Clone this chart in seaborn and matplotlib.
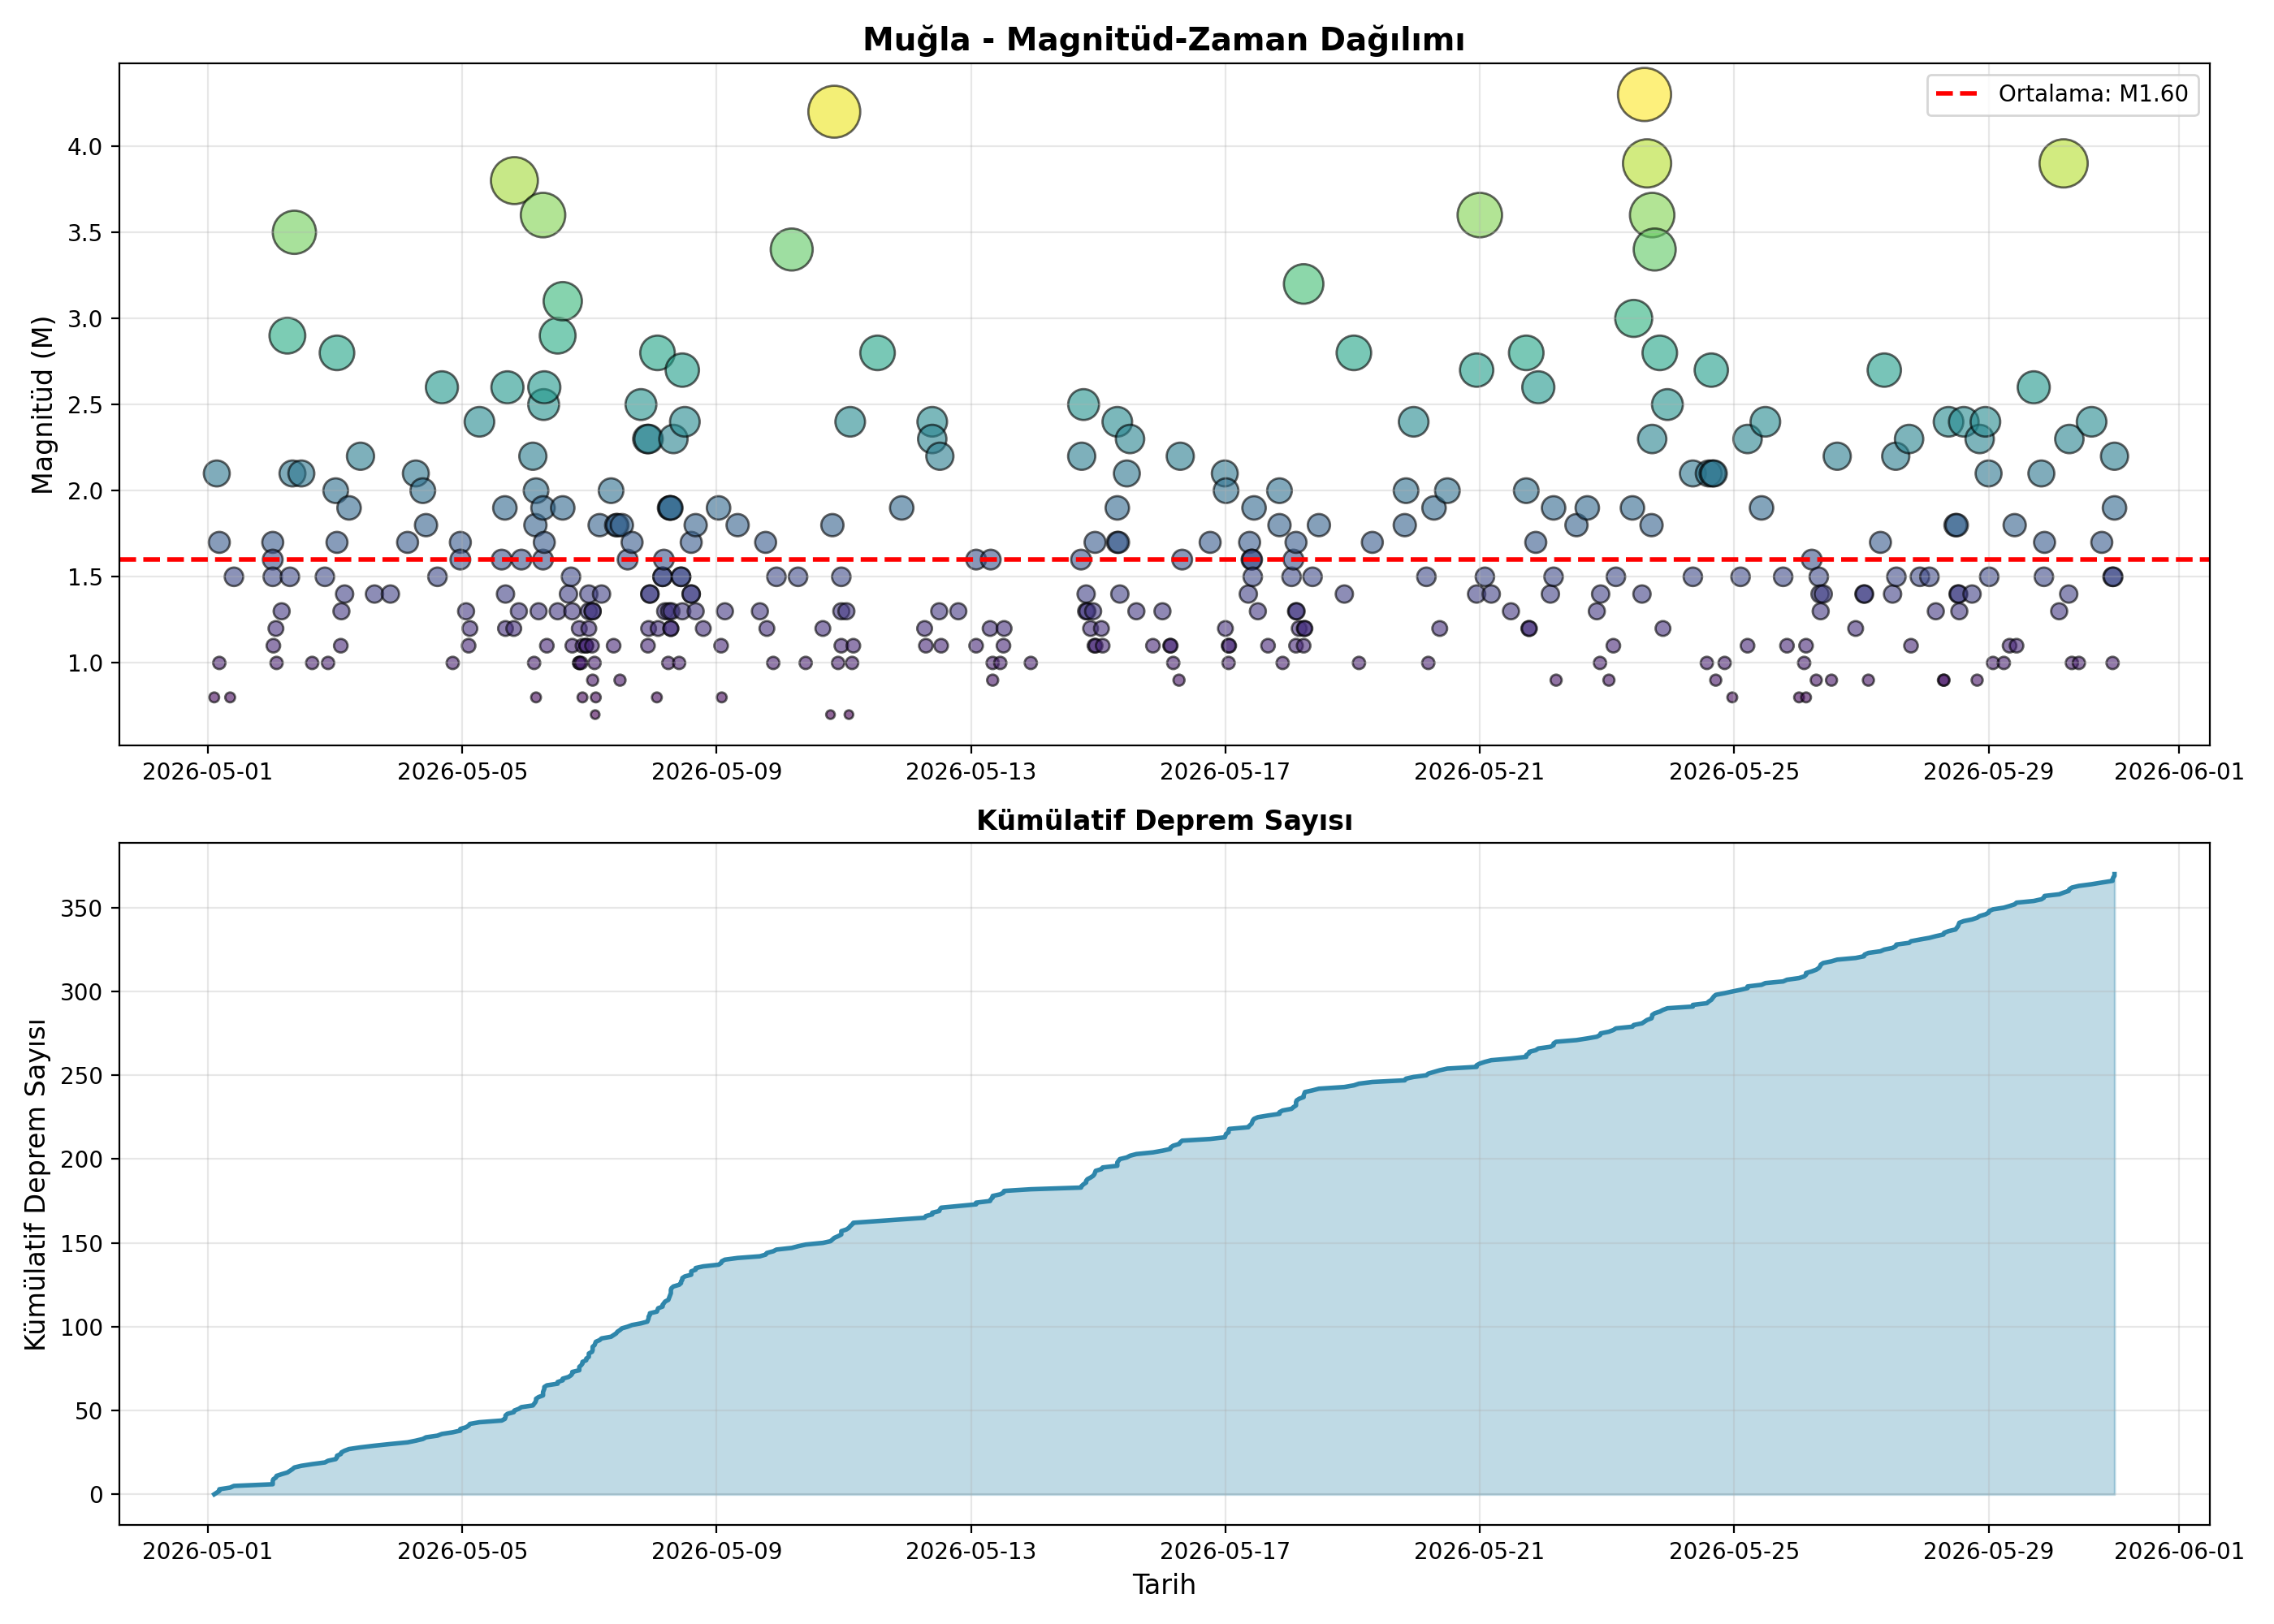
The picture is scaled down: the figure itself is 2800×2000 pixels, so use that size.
import numpy as np
import pandas as pd
import matplotlib
matplotlib.use('Agg')
import matplotlib.pyplot as plt
import matplotlib.dates as mdates
import seaborn as sns

# Veriler: gun = 2026-05-01 00:00'dan itibaren gecen gun, mag = magnitud
gun_1 = [0.14, 0.18, 0.18, 0.10, 0.35, 0.41, 1.02, 1.02, 1.02, 1.16, 1.07, 1.03, 1.08,
         1.25, 1.36, 1.33, 1.47, 1.29, 1.64, 1.84, 1.89, 2.03, 2.01, 2.22, 2.03, 2.15, 2.10, 2.09,
         2.40, 2.62, 2.87, 3.14, 3.27, 3.38, 3.43, 3.68, 3.61, 3.85,
         3.97, 3.97, 4.06, 4.12, 4.10, 4.27, 4.67, 4.71, 4.82, 4.62, 4.68, 4.68, 4.81]
mag_1 = [2.1, 1.7, 1.0, 0.8, 0.8, 1.5, 1.7, 1.6, 1.5, 1.3, 1.2, 1.1, 1.0,
         2.9, 3.5, 2.1, 2.1, 1.5, 1.0, 1.5, 1.0, 2.8, 2.0, 1.9, 1.7, 1.4, 1.3, 1.1,
         2.2, 1.4, 1.4, 1.7, 2.1, 2.0, 1.8, 2.6, 1.5, 1.0,
         1.7, 1.6, 1.3, 1.2, 1.1, 2.4, 1.9, 2.6, 3.8, 1.6, 1.4, 1.2, 1.2]

gun_2 = [5.27, 5.58, 5.50, 5.29, 5.28, 5.11, 5.16, 5.27, 5.58, 5.15,
         5.29, 4.93, 5.27, 5.71, 5.67, 5.99, 6.19, 4.89, 5.20, 5.50,
         5.73, 5.99, 6.05, 5.84, 5.99, 5.33, 5.73, 5.89, 5.95, 6.04,
         6.38, 5.13, 5.84, 5.87, 6.08, 6.05, 6.48, 5.16, 5.89, 6.10, 6.09,
         6.34, 6.16, 6.44, 6.51, 6.67, 6.60,
         6.81, 7.07, 7.46, 6.91, 6.93, 7.32, 7.50,
         7.26, 7.28, 7.67, 7.60, 7.17, 7.15, 7.44, 6.95, 7.60, 7.19,
         7.29, 7.46, 7.67, 6.93, 7.08, 7.28, 7.79, 6.92, 7.24, 7.41, 7.06,
         5.95, 5.84, 7.28, 7.25, 6.95, 7.60, 7.44, 7.15, 6.05, 7.27, 6.42]
mag_2 = [3.6, 3.1, 2.9, 2.6, 2.5, 2.2, 2.0, 1.9, 1.9, 1.8,
         1.7, 1.6, 1.6, 1.5, 1.4, 1.4, 1.4, 1.3, 1.3, 1.3,
         1.3, 1.3, 1.3, 1.2, 1.2, 1.1, 1.1, 1.1, 1.1, 1.1,
         1.1, 1.0, 1.0, 1.0, 1.0, 0.9, 0.9, 0.8, 0.8, 0.8, 0.7,
         2.0, 1.8, 1.8, 1.8, 1.7, 1.6,
         2.5, 2.8, 2.7, 2.3, 2.3, 2.3, 2.4,
         1.9, 1.9, 1.8, 1.7, 1.6, 1.5, 1.5, 1.4, 1.4, 1.3,
         1.3, 1.3, 1.3, 1.2, 1.2, 1.2, 1.2, 1.1, 1.0, 1.0, 0.8,
         1.1, 1.0, 1.2, 1.3, 1.4, 1.4, 1.5, 1.5, 1.3, 1.9, 1.8]

gun_3 = [8.03, 8.33, 8.77, 8.94, 9.28, 8.13, 8.68, 8.79, 8.07, 8.89, 9.40, 8.08, 9.18, 9.82, 9.79, 9.85, 9.67,
         10.10, 10.53, 9.96, 9.96, 10.04, 9.96, 10.15, 9.91, 10.13, 10.08,
         10.91, 11.39, 11.39, 11.51, 11.50, 11.80, 11.27, 11.29, 11.53,
         12.08, 12.31, 12.30, 12.52, 12.08, 12.51, 12.34, 12.46, 12.34, 12.94,
         13.77, 14.30, 14.50, 13.74, 14.45, 14.30, 13.95, 14.30, 14.32, 13.73, 13.81,
         14.34, 13.81, 13.83, 13.92, 14.60, 13.88, 14.05, 13.94, 13.96, 14.07, 14.86]
mag_3 = [1.9, 1.8, 1.7, 1.5, 1.5, 1.3, 1.3, 1.2, 1.1, 1.0, 1.0, 0.8, 3.4, 1.8, 0.7, 4.2, 1.2,
         2.4, 2.8, 1.5, 1.3, 1.3, 1.1, 1.1, 1.0, 1.0, 0.7,
         1.9, 2.4, 2.3, 2.2, 1.3, 1.3, 1.2, 1.1, 1.1,
         1.6, 1.6, 1.2, 1.2, 1.1, 1.1, 1.0, 1.0, 0.9, 1.0,
         2.5, 2.4, 2.3, 2.2, 2.1, 1.9, 1.7, 1.7, 1.7, 1.6, 1.4,
         1.4, 1.3, 1.3, 1.3, 1.3, 1.2, 1.2, 1.1, 1.1, 1.1, 1.1]

gun_4 = [15.01, 15.29, 15.32, 15.13, 15.14, 15.18, 15.27, 15.76, 15.99, 16.01,
         16.00, 16.05, 16.06, 16.05, 16.45, 16.38, 16.41, 16.42, 16.43, 16.36,
         16.51, 16.67, 16.85, 16.85, 17.11, 17.07, 17.04, 17.11, 17.12, 17.16,
         17.24, 17.25, 17.11, 17.23, 16.90, 17.23, 17.47, 17.37, 17.87, 18.02,
         18.31, 18.10, 18.96, 18.84, 18.82, 19.28, 19.49, 19.16, 19.37, 19.19]
mag_4 = [1.3, 2.2, 1.6, 1.1, 1.1, 1.0, 0.9, 1.7, 2.1, 2.0,
         1.2, 1.1, 1.1, 1.0, 1.9, 1.7, 1.6, 1.6, 1.5, 1.4,
         1.3, 1.1, 2.0, 1.8, 1.7, 1.6, 1.5, 1.3, 1.3, 1.2,
         1.2, 1.2, 1.1, 1.1, 1.0, 3.2, 1.8, 1.5, 1.4, 2.8,
         1.7, 1.0, 2.4, 2.0, 1.8, 1.9, 2.0, 1.5, 1.2, 1.0]

gun_5 = [20.00, 19.95, 20.08, 19.95, 20.18, 20.49, 20.73, 20.92, 20.73, 20.88,
         20.77, 20.78, 21.16, 21.16, 21.11, 21.20, 21.52, 21.69, 21.90, 21.84,
         22.10, 21.89, 22.03, 22.14, 22.40, 22.42, 22.59, 22.63, 22.71, 22.75,
         22.83, 22.95, 22.71, 22.70, 22.55, 22.88, 23.35, 23.60, 23.66, 23.68,
         23.64, 23.35, 23.57, 23.71, 23.85, 23.97, 24.21, 24.49, 24.43, 24.10,
         24.21, 24.77, 24.83]
mag_5 = [3.6, 2.7, 1.5, 1.4, 1.4, 1.3, 2.8, 2.6, 2.0, 1.7,
         1.2, 1.2, 1.9, 1.5, 1.4, 0.9, 1.8, 1.9, 1.4, 1.3,
         1.1, 1.0, 0.9, 1.5, 1.9, 3.0, 4.3, 3.9, 3.6, 3.4,
         2.8, 2.5, 2.3, 1.8, 1.4, 1.2, 2.1, 2.1, 2.1, 2.1,
         2.7, 1.5, 1.0, 0.9, 1.0, 0.8, 2.3, 2.4, 1.9, 1.5,
         1.1, 1.5, 1.1]

gun_6 = [25.02, 25.13, 25.10, 25.13, 25.22, 25.33, 25.35, 25.40, 25.36, 25.29,
         25.53, 25.62, 25.91, 26.04, 26.05, 26.11, 26.36, 26.30, 26.54, 26.75,
         26.55, 26.49, 26.78, 26.92, 27.07, 27.17, 27.29, 27.30, 27.37, 27.61,
         27.95, 27.86, 28.00, 27.48, 27.50, 27.52, 27.53, 27.74, 27.54, 27.82,
         28.01, 28.07, 28.24, 28.33, 28.44, 28.41, 28.71, 28.83, 28.88, 28.87,
         29.18, 29.27, 29.62, 29.26, 29.11, 29.31, 29.42, 29.78, 29.98, 29.98,
         29.95, 29.96, 29.95]
mag_6 = [0.8, 0.8, 1.0, 1.1, 1.6, 1.5, 1.4, 1.4, 1.3, 0.9,
         0.9, 2.2, 1.2, 1.4, 1.4, 0.9, 2.7, 1.7, 2.2, 2.3,
         1.5, 1.4, 1.1, 1.5, 1.5, 1.3, 0.9, 0.9, 2.4, 2.4,
         2.4, 2.3, 2.1, 1.8, 1.8, 1.4, 1.4, 1.4, 1.3, 0.9,
         1.5, 1.0, 1.0, 1.1, 1.1, 1.8, 2.6, 2.1, 1.7, 1.5,
         3.9, 2.3, 2.4, 1.4, 1.3, 1.0, 1.0, 1.7, 2.2, 1.9,
         1.5, 1.5, 1.0]

ortalama = 1.60
baslangic = '2026-05-01'

# DataFrame olustur
df = pd.DataFrame({
    'gun': gun_1 + gun_2 + gun_3 + gun_4 + gun_5 + gun_6,
    'magnitude': mag_1 + mag_2 + mag_3 + mag_4 + mag_5 + mag_6,
})
df['time'] = pd.Timestamp(baslangic) + pd.to_timedelta(df['gun'], unit='D')
df = df.sort_values('time').reset_index(drop=True)
df['kumulatif'] = np.arange(len(df))

boyutlar = {m: (m ** 2) * 30 for m in df['magnitude'].unique()}

fig, (ax1, ax2) = plt.subplots(2, 1, figsize=(14, 10), dpi=200)

# 1.- Magnitud-Zaman dagilimi
sns.scatterplot(data=df, x='time', y='magnitude', hue='magnitude', palette='viridis',
                size='magnitude', sizes=boyutlar, alpha=0.6, edgecolor='black',
                linewidth=1, legend=False, ax=ax1)
ax1.axhline(ortalama, color='red', linestyle='--', linewidth=2,
            label=f'Ortalama: M{ortalama:.2f}')
ax1.set_title('Muğla - Magnitüd-Zaman Dağılımı', fontsize=14, fontweight='bold')
ax1.set_xlabel('')
ax1.set_ylabel('Magnitüd (M)', fontsize=12)
ax1.legend(loc='upper right')
ax1.grid(True, alpha=0.3)

# 2.- Kumulatif deprem sayisi
sns.lineplot(data=df, x='time', y='kumulatif', color='#2E86AB', linewidth=2,
             estimator=None, ax=ax2)
ax2.fill_between(df['time'], df['kumulatif'], alpha=0.3, color='#2E86AB')
ax2.set_title('Kümülatif Deprem Sayısı', fontsize=12, fontweight='bold')
ax2.set_xlabel('Tarih', fontsize=12)
ax2.set_ylabel('Kümülatif Deprem Sayısı', fontsize=12)
ax2.grid(True, alpha=0.3)

for ax in (ax1, ax2):
    ax.xaxis.set_major_locator(mdates.DayLocator(bymonthday=range(1, 32, 4)))
    ax.xaxis.set_major_formatter(mdates.DateFormatter('%Y-%m-%d'))

plt.tight_layout()
plt.savefig('out.png')
